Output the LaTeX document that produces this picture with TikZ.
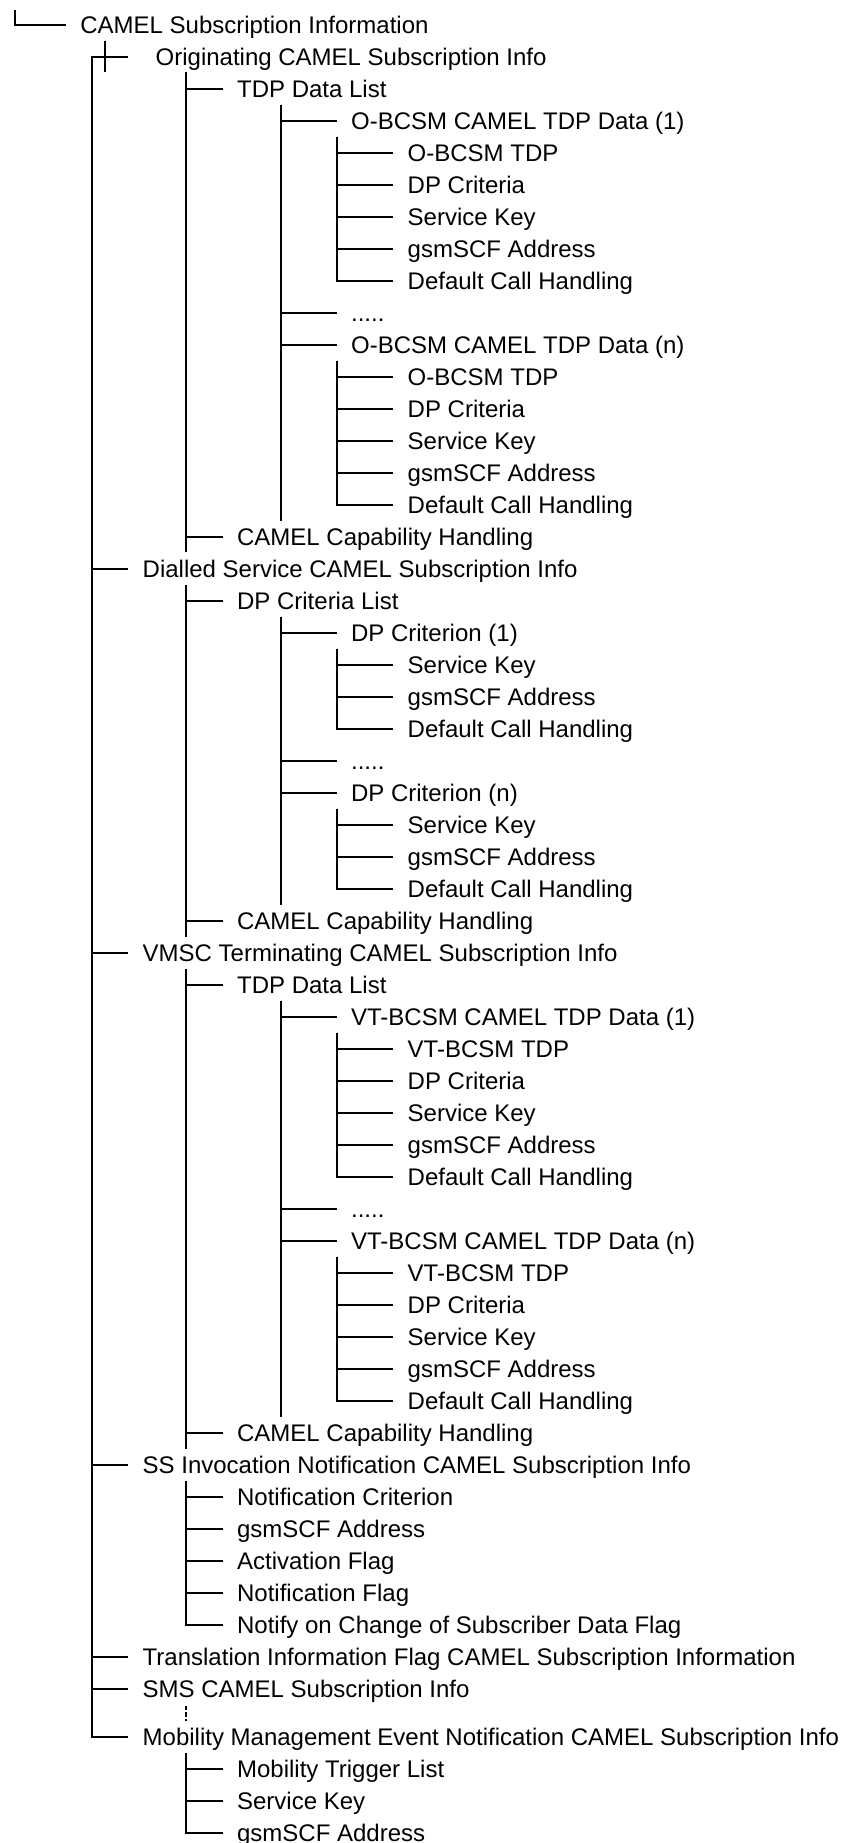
\documentclass[tikz,border=0pt]{standalone}
\usepackage{fontspec}
\setmainfont{Liberation Sans}

\tikzset{
  item/.style={anchor=west, inner xsep=7pt, inner ysep=0pt,
    text height=8.6pt, text depth=0pt,
    font=\fontsize{12}{14}\selectfont},
  tree/.style={line width=1pt},
  gap/.style={line width=0.8pt, dash pattern=on 2.2pt off 1pt},
}

\begin{document}
\begin{tikzpicture}[x=0.5pt,y=-0.5pt]

\useasboundingbox
(0,0)
rectangle
(852,1843);

% Root
\node[item] (root) at (66,24.5)
{CAMEL Subscription Information};

% Originating
\node[item, inner xsep=13.5pt] (orig) at (128.3,56.5)
{Originating CAMEL Subscription Info};

\node[item] (otdp) at (222.7,88.5)
{TDP Data List};

\node[item] (o1) at (336.7,120.5)
{O-BCSM CAMEL TDP Data (1)};

\node[item] (o1tdp) at (393.3,152.5)
{O-BCSM TDP};

\node[item] (o1dp) at (393.3,184.5)
{DP Criteria};

\node[item] (o1sk) at (393.3,216.5)
{Service Key};

\node[item] (o1scf) at (393.3,248.5)
{gsmSCF Address};

\node[item] (o1dch) at (393.3,280.5)
{Default Call Handling};

\node[item] (odots) at (336.7,312.5)
{.....};

\node[item] (on) at (336.7,344.5)
{O-BCSM CAMEL TDP Data (n)};

\node[item] (ontdp) at (393.3,376.5)
{O-BCSM TDP};

\node[item] (ondp) at (393.3,408.5)
{DP Criteria};

\node[item] (onsk) at (393.3,440.5)
{Service Key};

\node[item] (onscf) at (393.3,472.5)
{gsmSCF Address};

\node[item] (ondch) at (393.3,504.5)
{Default Call Handling};

\node[item] (ocap) at (222.7,536.5)
{CAMEL Capability Handling};

% Dialled Service
\node[item] (dial) at (128.3,568.5)
{Dialled Service CAMEL Subscription Info};

\node[item] (dlist) at (222.7,600.5)
{DP Criteria List};

\node[item] (d1) at (336.7,632.5)
{DP Criterion (1)};

\node[item] (d1sk) at (393.3,664.5)
{Service Key};

\node[item] (d1scf) at (393.3,696.5)
{gsmSCF Address};

\node[item] (d1dch) at (393.3,728.5)
{Default Call Handling};

\node[item] (ddots) at (336.7,760.5)
{.....};

\node[item] (dn) at (336.7,792.5)
{DP Criterion (n)};

\node[item] (dnsk) at (393.3,824.5)
{Service Key};

\node[item] (dnscf) at (393.3,856.5)
{gsmSCF Address};

\node[item] (dndch) at (393.3,888.5)
{Default Call Handling};

\node[item] (dcap) at (222.7,920.5)
{CAMEL Capability Handling};

% VMSC Terminating
\node[item] (vmsc) at (128.3,952.5)
{VMSC Terminating CAMEL Subscription Info};

\node[item] (vtdp) at (222.7,984.5)
{TDP Data List};

\node[item] (v1) at (336.7,1016.5)
{VT-BCSM CAMEL TDP Data (1)};

\node[item] (v1tdp) at (393.3,1048.5)
{VT-BCSM TDP};

\node[item] (v1dp) at (393.3,1080.5)
{DP Criteria};

\node[item] (v1sk) at (393.3,1112.5)
{Service Key};

\node[item] (v1scf) at (393.3,1144.5)
{gsmSCF Address};

\node[item] (v1dch) at (393.3,1176.5)
{Default Call Handling};

\node[item] (vdots) at (336.7,1208.5)
{.....};

\node[item] (vn) at (336.7,1240.5)
{VT-BCSM CAMEL TDP Data (n)};

\node[item] (vntdp) at (393.3,1272.5)
{VT-BCSM TDP};

\node[item] (vndp) at (393.3,1304.5)
{DP Criteria};

\node[item] (vnsk) at (393.3,1336.5)
{Service Key};

\node[item] (vnscf) at (393.3,1368.5)
{gsmSCF Address};

\node[item] (vndch) at (393.3,1400.5)
{Default Call Handling};

\node[item] (vcap) at (222.7,1432.5)
{CAMEL Capability Handling};

% SS Invocation
\node[item] (ssi) at (128.3,1464.5)
{SS Invocation Notification CAMEL Subscription Info};

\node[item] (ssicrit) at (222.7,1496.5)
{Notification Criterion};

\node[item] (ssiscf) at (222.7,1528.5)
{gsmSCF Address};

\node[item] (ssiact) at (222.7,1560.5)
{Activation Flag};

\node[item] (ssinot) at (222.7,1592.5)
{Notification Flag};

\node[item] (ssichg) at (222.7,1624.5)
{Notify on Change of Subscriber Data Flag};

% Translation, SMS
\node[item] (tif) at (128.3,1656.5)
{Translation Information Flag CAMEL Subscription Information};

\node[item] (sms) at (128.3,1688.5)
{SMS CAMEL Subscription Info};

% Mobility Management
\node[item] (mm) at (128.3,1736.5)
{Mobility Management Event Notification CAMEL Subscription Info};

\node[item] (mmtl) at (222.7,1768.5)
{Mobility Trigger List};

\node[item] (mmsk) at (222.7,1800.5)
{Service Key};

\node[item] (mmscf) at (222.7,1832.5)
{gsmSCF Address};

% Trunks
\coordinate (t0) at (15,10);
\coordinate (t1) at (91.7,56.5);
\coordinate (cx) at (105,40.7);
\coordinate (cxe) at (105,71.7);
\coordinate (t2o) at (186,71.7);
\coordinate (t2oe) at (186,551.7);
\coordinate (t2d) at (186,584.5);
\coordinate (t2de) at (186,936.5);
\coordinate (t2v) at (186,968.5);
\coordinate (t2ve) at (186,1448.5);
\coordinate (t2s) at (186,1480.5);
\coordinate (t2m) at (186,1752.5);
\coordinate (g0) at (186,1706);
\coordinate (g1) at (186,1721);
\coordinate (t3o) at (281,104.5);
\coordinate (t3oe) at (281,520.5);
\coordinate (t3d) at (281,616.5);
\coordinate (t3de) at (281,904.5);
\coordinate (t3v) at (281,1000.5);
\coordinate (t3ve) at (281,1416.5);

% Level 0 and 1
\draw[tree]
(t0) |- (root.west);

\draw[tree]
(cx) -- (cxe);

\draw[tree]
(orig.west) -- (t1) |- (mm.west)
(t1 |- dial.west) -- (dial.west)
(t1 |- vmsc.west) -- (vmsc.west)
(t1 |- ssi.west) -- (ssi.west)
(t1 |- tif.west) -- (tif.west)
(t1 |- sms.west) -- (sms.west);

% Level 2
\draw[tree]
(t2o) -- (t2oe)
(t2o |- otdp.west) -- (otdp.west)
(t2o |- ocap.west) -- (ocap.west);

\draw[tree]
(t2d) -- (t2de)
(t2d |- dlist.west) -- (dlist.west)
(t2d |- dcap.west) -- (dcap.west);

\draw[tree]
(t2v) -- (t2ve)
(t2v |- vtdp.west) -- (vtdp.west)
(t2v |- vcap.west) -- (vcap.west);

\draw[tree]
(t2s) |- (ssichg.west)
(t2s |- ssicrit.west) -- (ssicrit.west)
(t2s |- ssiscf.west) -- (ssiscf.west)
(t2s |- ssiact.west) -- (ssiact.west)
(t2s |- ssinot.west) -- (ssinot.west);

\draw[gap]
(g0) -- (g1);

\draw[tree]
(t2m) |- (mmscf.west)
(t2m |- mmtl.west) -- (mmtl.west)
(t2m |- mmsk.west) -- (mmsk.west);

% Level 3
\draw[tree]
(t3o) -- (t3oe)
(t3o |- o1.west) -- (o1.west)
(t3o |- odots.west) -- (odots.west)
(t3o |- on.west) -- (on.west);

\draw[tree]
(t3d) -- (t3de)
(t3d |- d1.west) -- (d1.west)
(t3d |- ddots.west) -- (ddots.west)
(t3d |- dn.west) -- (dn.west);

\draw[tree]
(t3v) -- (t3ve)
(t3v |- v1.west) -- (v1.west)
(t3v |- vdots.west) -- (vdots.west)
(t3v |- vn.west) -- (vn.west);

% Level 4
\draw[tree]
([yshift=-8pt]o1.west) |- (o1dch.west)
(o1.west |- o1tdp.west) -- (o1tdp.west)
(o1.west |- o1dp.west) -- (o1dp.west)
(o1.west |- o1sk.west) -- (o1sk.west)
(o1.west |- o1scf.west) -- (o1scf.west);

\draw[tree]
([yshift=-8pt]on.west) |- (ondch.west)
(on.west |- ontdp.west) -- (ontdp.west)
(on.west |- ondp.west) -- (ondp.west)
(on.west |- onsk.west) -- (onsk.west)
(on.west |- onscf.west) -- (onscf.west);

\draw[tree]
([yshift=-8pt]d1.west) |- (d1dch.west)
(d1.west |- d1sk.west) -- (d1sk.west)
(d1.west |- d1scf.west) -- (d1scf.west);

\draw[tree]
([yshift=-8pt]dn.west) |- (dndch.west)
(dn.west |- dnsk.west) -- (dnsk.west)
(dn.west |- dnscf.west) -- (dnscf.west);

\draw[tree]
([yshift=-8pt]v1.west) |- (v1dch.west)
(v1.west |- v1tdp.west) -- (v1tdp.west)
(v1.west |- v1dp.west) -- (v1dp.west)
(v1.west |- v1sk.west) -- (v1sk.west)
(v1.west |- v1scf.west) -- (v1scf.west);

\draw[tree]
([yshift=-8pt]vn.west) |- (vndch.west)
(vn.west |- vntdp.west) -- (vntdp.west)
(vn.west |- vndp.west) -- (vndp.west)
(vn.west |- vnsk.west) -- (vnsk.west)
(vn.west |- vnscf.west) -- (vnscf.west);

\end{tikzpicture}
\end{document}
